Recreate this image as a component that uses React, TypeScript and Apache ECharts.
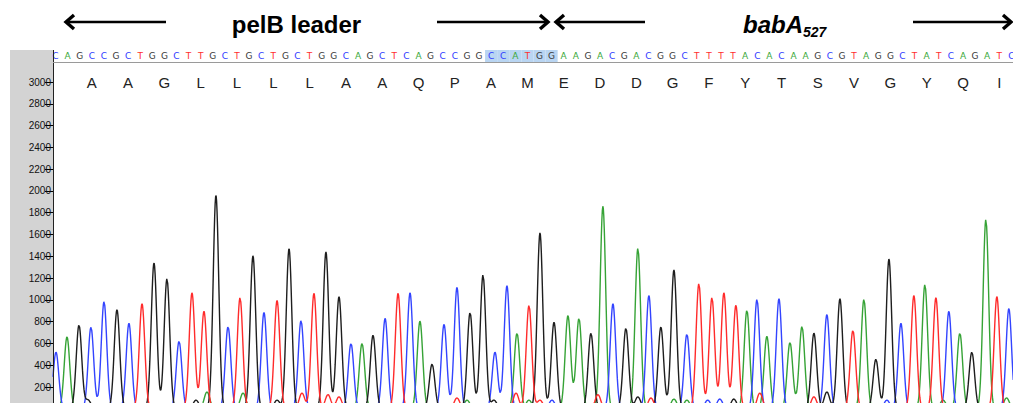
import React, { useEffect, useRef } from "react";
import * as echarts from "echarts";

// Base calls (top sequence line)
const bases: string[] =
  "CAGCCGCTGGCTTGCTGCTGCTGGCAGCTCAGCCGGCCATGGAAGACGACGGCTTTTACACAAGCGTAGGCTATCAGATC".split("");

// Translation, one residue per codon (codon centre bases 4, 7, 10, ...)
const aminoAcids: string[] = [
  "A", "A", "G", "L", "L", "L", "L", "A", "A", "Q", "P", "A", "M",
  "E", "D", "D", "G", "F", "Y", "T", "S", "V", "G", "Y", "Q", "I",
];
const firstCodonCentre = 4;

// Highlighted NcoI site (CCATGG), base numbers
const highlightFrom = 37;
const highlightTo = 42;

// Main peaks: position (in base units) and height, one per base call
const peakPos: number[] = [
  1.04, 1.95, 2.94, 3.93, 5.01, 6.08, 7.07, 8.15, 9.14, 10.21,
  11.21, 12.28, 13.27, 14.26, 15.26, 16.25, 17.32, 18.23, 19.31, 20.3,
  21.29, 22.36, 23.35, 24.43, 25.42, 26.33, 27.24, 28.24, 29.31, 30.3,
  31.12, 32.12, 33.11, 34.18, 35.26, 36.33, 37.32, 38.31, 39.14, 40.13,
  41.04, 42.2, 43.35, 44.26, 45.25, 46.24, 47.07, 48.14, 49.13, 50.04,
  51.03, 52.11, 53.18, 54.17, 55.25, 56.24, 57.23, 58.14, 58.97, 59.79,
  60.79, 61.7, 62.69, 63.68, 64.75, 65.83, 66.9, 67.81, 68.8, 69.88,
  70.87, 71.94, 72.85, 73.76, 74.83, 75.74, 76.73, 77.89, 78.8, 79.79,
];
const peakHeight: number[] = [
  520, 660, 770, 750, 985, 910, 785, 965, 1340, 1195,
  620, 1065, 895, 1960, 755, 1020, 1405, 885, 995, 1470,
  810, 1060, 1440, 1030, 600, 600, 675, 830, 1060, 1065,
  805, 410, 775, 1115, 885, 1230, 520, 1130, 695, 950,
  1615, 795, 855, 830, 695, 1860, 965, 740, 1475, 1040,
  750, 1275, 685, 1150, 1020, 1065, 950, 905, 1005, 665,
  1010, 610, 755, 695, 865, 1010, 720, 1005, 455, 1375,
  785, 1040, 1140, 1020, 895, 695, 520, 1740, 1030, 920,
];

// Small background peaks near the baseline
const minorBase: string[] = [
  "G", "G", "A", "A", "G", "T", "T", "T", "T", "A",
  "G", "T", "A", "T", "C", "T", "G", "T", "A", "A",
  "C", "C", "G", "T", "T", "G", "C", "A", "A",
];
const minorPos: number[] = [
  3.69, 12.61, 13.52, 16.5, 19.31, 21.37, 23.52, 24.43, 34.18, 35.01,
  37.24, 39.06, 40.13, 41.04, 42.03, 45.83, 49.13, 50.21, 52.11, 53.18,
  54.9, 55.9, 57.06, 59.21, 63.68, 64.75, 69.71, 74.35, 79.6,
];
const minorHeight: number[] = [
  80, 80, 155, 145, 80, 145, 130, 110, 100, 80,
  80, 145, 80, 80, 80, 130, 110, 100, 90, 80,
  80, 90, 90, 145, 110, 155, 80, 80, 100,
];

const channels = ["A", "C", "G", "T"];
const traceColor: Record<string, string> = {
  A: "#36a336",
  C: "#3344ff",
  G: "#1e1e1e",
  T: "#ff2b2b",
};
const letterColor: Record<string, string> = {
  A: "#3aa83a",
  C: "#2f3cff",
  G: "#3a3a3a",
  T: "#ff3030",
};

// layout (pixels)
const BASE1_PX = 55.5;
const BASE_STEP = 12.1;
const PLOT_LEFT = 53;
const W = 1013;
const H = 403;
const X_MIN = 1 - (BASE1_PX - PLOT_LEFT) / BASE_STEP;
const X_MAX = 1 + (W - BASE1_PX) / BASE_STEP;
const SEQ_LEFT = BASE1_PX - BASE_STEP / 2;
const SEQ_WIDTH = BASE_STEP * bases.length;
const SIGMA = 0.23;

function trace(ch: string): number[][] {
  const peaks: { p: number; h: number }[] = [];
  bases.forEach((b, i) => {
    if (b === ch) peaks.push({ p: peakPos[i], h: peakHeight[i] });
  });
  minorBase.forEach((b, i) => {
    if (b === ch) peaks.push({ p: minorPos[i], h: minorHeight[i] });
  });
  const pts: number[][] = [];
  const step = 0.04;
  for (let k = 0; ; k++) {
    const x = X_MIN + k * step;
    if (x > X_MAX + step) break;
    let y = 0;
    for (const pk of peaks) {
      const d = x - pk.p;
      y += pk.h * Math.exp(-(d * d) / (2 * SIGMA * SIGMA));
    }
    pts.push([x, Math.round(y * 10) / 10]);
  }
  return pts;
}

export default function App() {
  const ref = useRef<HTMLDivElement>(null);
  useEffect(() => {
    if (!ref.current) return;
    const chart = echarts.init(ref.current, undefined, { renderer: "svg" });
    const idx = bases.map((_, i) => String(i));
    const aaLabels = bases.map((_, i) => {
      const k = (i + 1 - firstCodonCentre) / 3;
      return Number.isInteger(k) && k >= 0 && k < aminoAcids.length ? aminoAcids[k] : "";
    });
    const hl = bases.map((_, i) => (i + 1 >= highlightFrom && i + 1 <= highlightTo ? 1 : "-"));
    const rich: any = {};
    channels.forEach((c) => {
      rich[c] = { color: letterColor[c], fontSize: 9, fontFamily: "DejaVu Sans" };
    });

    const arrowStyle = { stroke: "#000", lineWidth: 2.6, fill: null as any };
    const headStyle = { stroke: "#000", lineWidth: 3.4, fill: null as any, lineJoin: "miter" };

    chart.setOption({
      animation: false,
      backgroundColor: "#ffffff",
      grid: [
        { left: PLOT_LEFT, top: 82, width: W - PLOT_LEFT, height: 326.8, outerBoundsMode: "none", containLabel: false },
        { left: SEQ_LEFT, top: 50, width: SEQ_WIDTH, height: 12, outerBoundsMode: "none", containLabel: false },
        { left: SEQ_LEFT, top: 82, width: SEQ_WIDTH, height: 10, outerBoundsMode: "none", containLabel: false },
      ],
      xAxis: [
        { type: "value", gridIndex: 0, min: X_MIN, max: X_MAX, show: false },
        {
          type: "category",
          gridIndex: 1,
          data: idx,
          position: "bottom",
          z: 10,
          axisLine: { show: false },
          axisTick: { show: false },
          axisLabel: {
            inside: true,
            interval: 0,
            margin: 2,
            formatter: (_v: string, i: number) => `{${bases[i]}|${bases[i]}}`,
            rich,
          },
        },
        {
          type: "category",
          gridIndex: 2,
          data: idx,
          position: "top",
          axisLine: { show: false },
          axisTick: { show: false },
          axisLabel: {
            interval: 0,
            margin: 0,
            verticalAlign: "middle",
            fontSize: 15,
            fontFamily: "Liberation Sans",
            color: "#222",
            formatter: (_v: string, i: number) => aaLabels[i],
          },
        },
      ],
      yAxis: [
        {
          type: "value",
          gridIndex: 0,
          min: 0,
          max: 3000,
          interval: 200,
          axisLine: { show: false },
          axisTick: { show: true, length: 8, lineStyle: { color: "#000", width: 1 } },
          axisLabel: {
            margin: 2,
            fontSize: 10,
            fontFamily: "Liberation Sans",
            color: "#111",
            showMaxLabel: true,
            formatter: (v: number) => (v === 0 ? "" : String(v)),
          },
          splitLine: { show: false },
        },
        { type: "value", gridIndex: 1, min: 0, max: 1, show: false },
        { type: "value", gridIndex: 2, min: 0, max: 1, show: false },
      ],
      series: [
        {
          type: "bar",
          xAxisIndex: 1,
          yAxisIndex: 1,
          data: hl,
          barWidth: "100%",
          itemStyle: { color: "#b9d5f2" },
          z: 1,
          silent: true,
        },
        ...channels.map((c) => ({
          type: "line",
          name: c,
          xAxisIndex: 0,
          yAxisIndex: 0,
          data: trace(c),
          showSymbol: false,
          symbol: "none",
          clip: true,
          silent: true,
          lineStyle: { color: traceColor[c], width: 1.4 },
        })),
      ],
      graphic: [
        { type: "rect", z: -5, shape: { x: 10, y: 50, width: 43, height: H - 50 }, style: { fill: "#d3d3d3" } },
        { type: "line", z: 20, shape: { x1: 53.5, y1: 50, x2: 53.5, y2: H }, style: { stroke: "#222", lineWidth: 1 } },
        { type: "line", z: 20, shape: { x1: 53, y1: 62.5, x2: W, y2: 62.5 }, style: { stroke: "#9a9a9a", lineWidth: 1 } },
        // header arrows
        { type: "line", shape: { x1: 66, y1: 22, x2: 166, y2: 22 }, style: arrowStyle },
        { type: "polyline", shape: { points: [[74, 15], [66, 22], [74, 29]] }, style: headStyle },
        { type: "line", shape: { x1: 437, y1: 22, x2: 548, y2: 22 }, style: arrowStyle },
        { type: "polyline", shape: { points: [[540, 15], [548, 22], [540, 29]] }, style: headStyle },
        { type: "line", shape: { x1: 556, y1: 22, x2: 645, y2: 22 }, style: arrowStyle },
        { type: "polyline", shape: { points: [[564, 15], [556, 22], [564, 29]] }, style: headStyle },
        { type: "line", shape: { x1: 913, y1: 22, x2: 1011, y2: 22 }, style: arrowStyle },
        { type: "polyline", shape: { points: [[1003, 15], [1011, 22], [1003, 29]] }, style: headStyle },
        {
          type: "text",
          x: 296.5,
          y: 24,
          style: {
            text: "pelB leader",
            fontSize: 24,
            fontWeight: "bold",
            fontFamily: "Liberation Sans",
            fill: "#000",
            align: "center",
            verticalAlign: "middle",
          },
        },
        {
          type: "text",
          x: 743,
          y: 24,
          style: {
            text: "babA",
            fontSize: 24,
            fontWeight: "bold",
            fontStyle: "italic",
            fontFamily: "Liberation Sans",
            fill: "#000",
            align: "left",
            verticalAlign: "middle",
          },
        },
        {
          type: "text",
          x: 803,
          y: 32,
          style: {
            text: "527",
            fontSize: 14,
            fontWeight: "bold",
            fontStyle: "italic",
            fontFamily: "Liberation Sans",
            fill: "#000",
            align: "left",
            verticalAlign: "middle",
          },
        },
      ],
    });
    return () => chart.dispose();
  }, []);
  return (
    <div
      ref={ref}
      style={{ position: "fixed", left: 0, top: 0, width: W, height: H, background: "#fff" }}
    />
  );
}
